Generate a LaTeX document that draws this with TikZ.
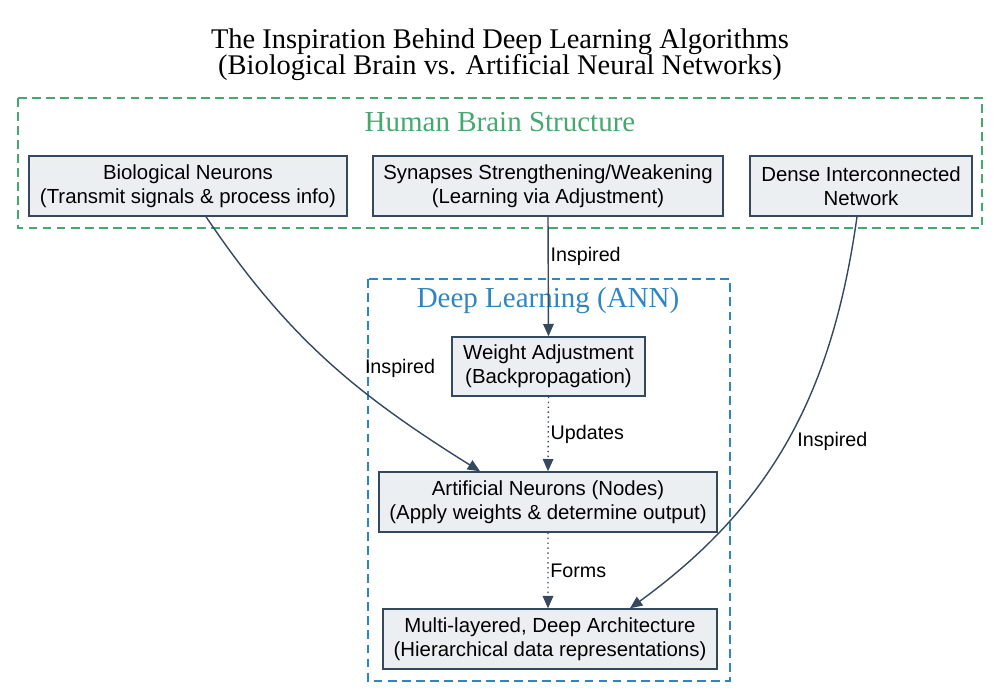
\documentclass[tikz,border=0pt]{standalone}
\usepackage{fontspec}
\setmainfont{Liberation Serif}
\setsansfont{Liberation Sans}
\definecolor{brgreen}{HTML}{45A86E}
\definecolor{annblue}{HTML}{2E86C1}
\definecolor{slate}{HTML}{34495E}
\definecolor{boxgray}{HTML}{ECEFF1}
\usetikzlibrary{arrows.meta}
\usetikzlibrary{positioning}

\begin{document}
\begin{tikzpicture}[
	unit/.style={draw=slate, fill=boxgray, thick, align=center, minimum height=1.2cm,
		font=\sffamily\fontsize{11.6}{13.6}\selectfont},
	frame/.style={dash pattern=on 5pt off 3pt, thick},
	link/.style={draw=slate, thick, -{Triangle[length=7pt,width=6pt]}},
	lbl/.style={font=\sffamily\fontsize{11.2}{12}\selectfont, inner sep=1pt}]
	\useasboundingbox (0,0) rectangle (20,-13.98);
	\node[align=center, font=\fontsize{16.2}{14.8}\selectfont] (title) at (10,-1.1)
		{The Inspiration Behind Deep Learning Algorithms\\[-1pt](Biological Brain vs. Artificial Neural Networks)};
	%human brain
	\draw[frame, brgreen] (0.36,-1.96) rectangle (19.64,-4.56);
	\node[text=brgreen, font=\fontsize{16.5}{16.5}\selectfont] (brain) at (10,-2.44) {Human Brain Structure};
	\node[unit, minimum width=6.36cm] (bio) at (3.76,-3.72) {Biological Neurons\\(Transmit signals \& process info)};
	\node[unit, minimum width=7.0cm] (syn) at (10.96,-3.72) {Synapses Strengthening/Weakening\\(Learning via Adjustment)};
	\node[unit, minimum width=4.44cm] (dense) at (17.22,-3.72) {Dense Interconnected\\Network};
	%deep learning
	\draw[frame, annblue] (7.36,-5.58) rectangle (14.6,-13.62);
	\node[text=annblue, font=\fontsize{16.5}{16.5}\selectfont] (ann) at (10.96,-6.02) {Deep Learning (ANN)};
	\node[unit, minimum width=3.86cm, minimum height=1.18cm] (weight) at (10.97,-7.33) {Weight Adjustment\\(Backpropagation)};
	\node[unit, minimum width=6.76cm] (art) at (10.96,-10.04) {Artificial Neurons (Nodes)\\(Apply weights \& determine output)};
	\node[unit, minimum width=6.68cm] (multi) at (11.0,-12.78) {Multi-layered, Deep Architecture\\(Hierarchical data representations)};
	%connectors
	\draw[link] (syn.south) -- node[lbl, pos=0.33, right] {Inspired} (weight.north);
	\draw[link, dotted] (weight.south) -- node[lbl, pos=0.5, right] {Updates} (art.north);
	\draw[link, dotted] (art.south) -- node[lbl, pos=0.5, right] {Forms} ([xshift=-0.04cm]multi.north);
	\draw[link] ([xshift=0.36cm]bio.south) to[out=-56, in=148]
		node[lbl, pos=0.54, anchor=west, xshift=0.5cm, yshift=0.02cm] {Inspired} ([xshift=-1.36cm]art.north);
	\draw[link] ([xshift=-0.08cm]dense.south) to[out=-98, in=36]
		node[lbl, pos=0.5, right, xshift=0.14cm, yshift=-0.04cm] {Inspired} ([xshift=1.6cm]multi.north);
\end{tikzpicture}
\end{document}
